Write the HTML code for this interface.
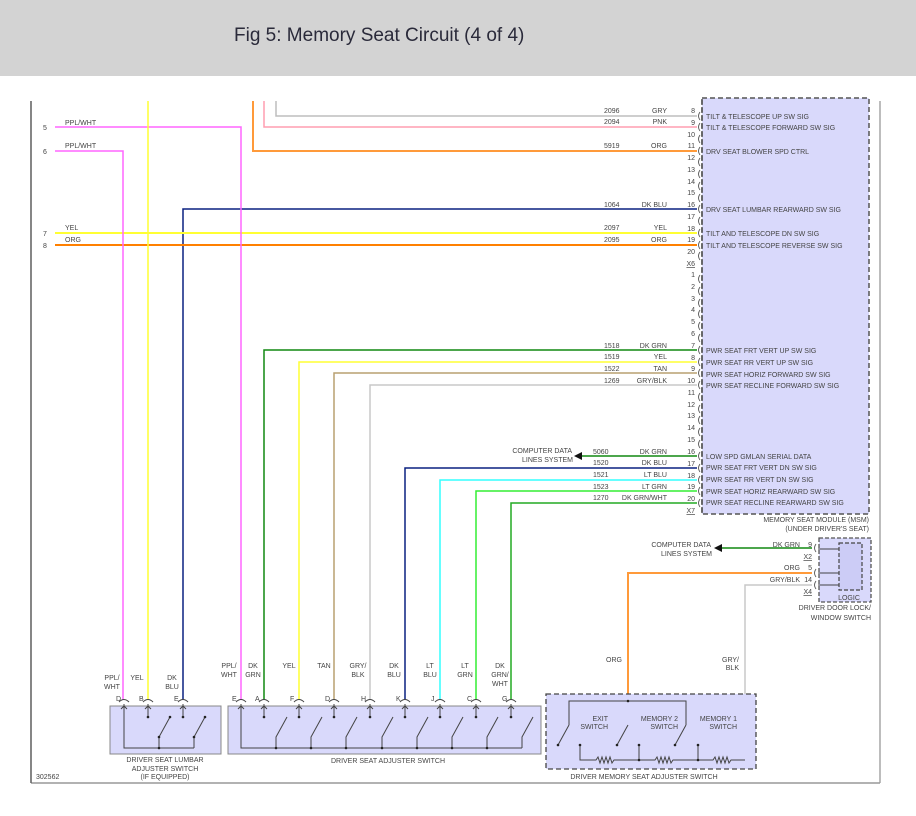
<!DOCTYPE html>
<html><head><meta charset="utf-8"><style>
body{margin:0;width:916px;height:816px;background:#fff;overflow:hidden}
.hdr{position:absolute;left:0;top:0;width:916px;height:76px;background:#d3d3d3}
.hdr span{position:absolute;left:234px;top:25px;font:19px "Liberation Sans",sans-serif;color:#2a2a3a}
svg{position:absolute;left:0;top:0}
text{font-family:"Liberation Sans",sans-serif;font-size:7px;fill:#444}
</style></head><body>
<div class="hdr"><span>Fig 5: Memory Seat Circuit (4 of 4)</span></div>
<svg width="916" height="816" viewBox="0 0 916 816">
<line x1="31" y1="101" x2="31" y2="783" stroke="#444" stroke-width="1.3"/>
<line x1="31" y1="783" x2="880" y2="783" stroke="#666" stroke-width="1"/>
<line x1="880" y1="101" x2="880" y2="783" stroke="#999" stroke-width="1.3"/>
<rect x="702" y="98" width="167" height="416" fill="#d9d9fb" stroke="#555" stroke-width="1.5" stroke-dasharray="5,3"/>
<g fill="none" stroke-width="1.5">
<polyline points="276,101 276,116 697,116" stroke="#bdbdbd"/>
<polyline points="264,101 264,127 697,127" stroke="#ff9eb0"/>
<polyline points="253,101 253,151 697,151" stroke="#ff9a3a" stroke-width="2"/>
<polyline points="183,700 183,209 697,209" stroke="#0a2080"/>
<line x1="55" y1="233" x2="697" y2="233" stroke="#ffff33" stroke-width="2"/>
<line x1="55" y1="245" x2="697" y2="245" stroke="#ff8000" stroke-width="2"/>
<polyline points="55,127 241,127 241,700" stroke="#ff66ff"/>
<polyline points="55,151 123,151 123,700" stroke="#ff66ff"/>
<line x1="148" y1="101" x2="148" y2="700" stroke="#ffff33"/>
<polyline points="264,700 264,350 697,350" stroke="#118811"/>
<polyline points="299,700 299,362 697,362" stroke="#ffff33"/>
<polyline points="334,700 334,373 697,373" stroke="#b8a070"/>
<polyline points="370,700 370,385 697,385" stroke="#c8c8c8"/>
<line x1="582" y1="456" x2="697" y2="456" stroke="#118811"/>
<polyline points="405,700 405,468 697,468" stroke="#0a2080"/>
<polyline points="440,700 440,480 697,480" stroke="#33ffff"/>
<polyline points="476,700 476,491 697,491" stroke="#33ee33"/>
<polyline points="511,700 511,503 697,503" stroke="#22aa22"/>
<line x1="722" y1="548" x2="812" y2="548" stroke="#118811"/>
<polyline points="628,694 628,573 812,573" stroke="#ff9a3a" stroke-width="2"/>
<polyline points="745,760 745,585 812,585" stroke="#c8c8c8"/>
</g>
<polygon points="574,456 582,452 582,460" fill="#111"/>
<polygon points="714,548 722,544 722,552" fill="#111"/>
<g fill="none" stroke="#555" stroke-width="0.9">
<path d="M700 112 q-3 4 0 8 M700 123 q-3 4 0 8 M700 135 q-3 4 0 8 M700 147 q-3 4 0 8 M700 158 q-3 4 0 8 M700 170 q-3 4 0 8 M700 182 q-3 4 0 8 M700 194 q-3 4 0 8 M700 205 q-3 4 0 8 M700 217 q-3 4 0 8 M700 229 q-3 4 0 8 M700 241 q-3 4 0 8 M700 252 q-3 4 0 8"/>
<path d="M700 275 q-3 4 0 8 M700 287 q-3 4 0 8 M700 299 q-3 4 0 8 M700 310 q-3 4 0 8 M700 322 q-3 4 0 8 M700 334 q-3 4 0 8 M700 346 q-3 4 0 8 M700 358 q-3 4 0 8 M700 369 q-3 4 0 8 M700 381 q-3 4 0 8 M700 393 q-3 4 0 8 M700 405 q-3 4 0 8 M700 416 q-3 4 0 8 M700 428 q-3 4 0 8 M700 440 q-3 4 0 8 M700 452 q-3 4 0 8 M700 464 q-3 4 0 8 M700 476 q-3 4 0 8 M700 487 q-3 4 0 8 M700 499 q-3 4 0 8"/>
<path d="M816 544 q-3 4 0 8 M816 569 q-3 4 0 8 M816 581 q-3 4 0 8"/>
</g>
<line x1="702" y1="100" x2="702" y2="514" stroke="#555" stroke-width="1.5" stroke-dasharray="5,3"/>
<g text-anchor="start">
<text x="604" y="113">2096</text><text x="604" y="124">2094</text><text x="604" y="148">5919</text><text x="604" y="207">1064</text><text x="604" y="230">2097</text><text x="604" y="242">2095</text>
<text x="604" y="348">1518</text><text x="604" y="359">1519</text><text x="604" y="371">1522</text><text x="604" y="383">1269</text><text x="593" y="454">5060</text><text x="593" y="465">1520</text><text x="593" y="477">1521</text><text x="593" y="489">1523</text><text x="593" y="500">1270</text>
</g>
<g text-anchor="end">
<text x="667" y="113">GRY</text><text x="667" y="124">PNK</text><text x="667" y="148">ORG</text><text x="667" y="207">DK BLU</text><text x="667" y="230">YEL</text><text x="667" y="242">ORG</text>
<text x="667" y="348">DK GRN</text><text x="667" y="359">YEL</text><text x="667" y="371">TAN</text><text x="667" y="383">GRY/BLK</text><text x="667" y="454">DK GRN</text><text x="667" y="465">DK BLU</text><text x="667" y="477">LT BLU</text><text x="667" y="489">LT GRN</text><text x="667" y="500">DK GRN/WHT</text>
<text x="695" y="113">8</text><text x="695" y="125">9</text><text x="695" y="137">10</text><text x="695" y="148">11</text><text x="695" y="160">12</text><text x="695" y="172">13</text><text x="695" y="184">14</text><text x="695" y="195">15</text><text x="695" y="207">16</text><text x="695" y="219">17</text><text x="695" y="231">18</text><text x="695" y="242">19</text><text x="695" y="254">20</text>
<text x="695" y="266" text-decoration="underline">X6</text>
<text x="695" y="277">1</text><text x="695" y="289">2</text><text x="695" y="301">3</text><text x="695" y="312">4</text><text x="695" y="324">5</text><text x="695" y="336">6</text><text x="695" y="348">7</text><text x="695" y="360">8</text><text x="695" y="371">9</text><text x="695" y="383">10</text><text x="695" y="395">11</text><text x="695" y="407">12</text><text x="695" y="418">13</text><text x="695" y="430">14</text><text x="695" y="442">15</text><text x="695" y="454">16</text><text x="695" y="466">17</text><text x="695" y="478">18</text><text x="695" y="489">19</text><text x="695" y="501">20</text>
<text x="695" y="513" text-decoration="underline">X7</text>
<text x="572" y="453">COMPUTER DATA</text><text x="573" y="462">LINES SYSTEM</text>
<text x="711" y="547">COMPUTER DATA</text><text x="712" y="556">LINES SYSTEM</text>
<text x="800" y="547">DK GRN</text><text x="812" y="547">9</text><text x="812" y="559" text-decoration="underline">X2</text>
<text x="800" y="570">ORG</text><text x="812" y="570">5</text>
<text x="800" y="582">GRY/BLK</text><text x="812" y="582">14</text><text x="812" y="594" text-decoration="underline">X4</text>
<text x="869" y="522">MEMORY SEAT MODULE (MSM)</text><text x="869" y="531">(UNDER DRIVER'S SEAT)</text>
<text x="871" y="610">DRIVER DOOR LOCK/</text><text x="871" y="620">WINDOW SWITCH</text>
<text x="622" y="662">ORG</text><text x="739" y="662">GRY/</text><text x="739" y="670">BLK</text>
</g>
<g>
<text x="706" y="119">TILT &amp; TELESCOPE UP SW SIG</text>
<text x="706" y="130">TILT &amp; TELESCOPE FORWARD SW SIG</text>
<text x="706" y="154">DRV SEAT BLOWER SPD CTRL</text>
<text x="706" y="212">DRV SEAT LUMBAR REARWARD SW SIG</text>
<text x="706" y="236">TILT AND TELESCOPE DN SW SIG</text>
<text x="706" y="248">TILT AND TELESCOPE REVERSE SW SIG</text>
<text x="706" y="353">PWR SEAT FRT VERT UP SW SIG</text>
<text x="706" y="365">PWR SEAT RR VERT UP SW SIG</text>
<text x="706" y="377">PWR SEAT HORIZ FORWARD SW SIG</text>
<text x="706" y="388">PWR SEAT RECLINE FORWARD SW SIG</text>
<text x="706" y="459">LOW SPD GMLAN SERIAL DATA</text>
<text x="706" y="470">PWR SEAT FRT VERT DN SW SIG</text>
<text x="706" y="482">PWR SEAT RR VERT DN SW SIG</text>
<text x="706" y="494">PWR SEAT HORIZ REARWARD SW SIG</text>
<text x="706" y="505">PWR SEAT RECLINE REARWARD SW SIG</text>
<text x="43" y="130" fill="#c33">5</text><text x="65" y="125">PPL/WHT</text>
<text x="43" y="154" fill="#c33">6</text><text x="65" y="148">PPL/WHT</text>
<text x="43" y="236" fill="#c33">7</text><text x="65" y="230">YEL</text>
<text x="43" y="248" fill="#c33">8</text><text x="65" y="242">ORG</text>
<text x="36" y="779">302562</text>
</g>
<rect x="819" y="538" width="52" height="64" fill="#d9d9fb" stroke="#555" stroke-width="1.3" stroke-dasharray="4,2"/>
<rect x="839" y="543" width="23" height="47" fill="#ccccf6" stroke="#444" stroke-width="1.2" stroke-dasharray="4,2"/>
<path d="M818 549 H839 M818 573 H839 M818 585 H839" stroke="#444" stroke-width="1"/>
<text x="849" y="600" text-anchor="middle">LOGIC</text>
<rect x="110" y="706" width="111" height="48" fill="#d9d9fb" stroke="#888" stroke-width="1"/>
<rect x="228" y="706" width="313" height="48" fill="#d9d9fb" stroke="#888" stroke-width="1"/>
<rect x="546" y="694" width="210" height="75" fill="#d9d9fb" stroke="#444" stroke-width="1.3" stroke-dasharray="5,3"/>
<g fill="none" stroke="#444" stroke-width="1">
<path d="M124 704 V748 H194 M159 748 V737 L170 717 M194 748 V737 L205 717 M148 704 V717 M183 704 V717"/>
<path d="M241 704 V748 H522 M276 748 V737 L287 717 M311 748 V737 L322 717 M346 748 V737 L357 717 M382 748 V737 L393 717 M417 748 V737 L428 717 M452 748 V737 L463 717 M487 748 V737 L498 717 M522 748 V737 L533 717"/>
<path d="M264 704 V717 M299 704 V717 M334 704 V717 M370 704 V717 M405 704 V717 M440 704 V717 M476 704 V717 M511 704 V717"/>
<path d="M119 702 q5 -5 10 0 M143 702 q5 -5 10 0 M178 702 q5 -5 10 0 M236 702 q5 -5 10 0 M259 702 q5 -5 10 0 M294 702 q5 -5 10 0 M329 702 q5 -5 10 0 M365 702 q5 -5 10 0 M400 702 q5 -5 10 0 M435 702 q5 -5 10 0 M471 702 q5 -5 10 0 M506 702 q5 -5 10 0"/>
<path d="M121 709 l3 -3 l3 3 M145 709 l3 -3 l3 3 M180 709 l3 -3 l3 3 M238 709 l3 -3 l3 3 M261 709 l3 -3 l3 3 M296 709 l3 -3 l3 3 M331 709 l3 -3 l3 3 M367 709 l3 -3 l3 3 M402 709 l3 -3 l3 3 M437 709 l3 -3 l3 3 M473 709 l3 -3 l3 3 M508 709 l3 -3 l3 3"/>
<path d="M569 725 V701 H686 V725 M569 725 L558 745 M628 725 L617 745 M686 725 L675 745 M580 745 V760 H596 l2 -3 l2 6 l2 -6 l2 6 l2 -6 l2 6 l2 -6 l2 6 l2 -3 H655 l2 -3 l2 6 l2 -6 l2 6 l2 -6 l2 6 l2 -6 l2 6 l2 -3 H713 l2 -3 l2 6 l2 -6 l2 6 l2 -6 l2 6 l2 -6 l2 6 l2 -3 H745 M639 745 V760 M698 745 V760"/>
</g>
<g fill="#222">
<circle cx="159" cy="748" r="1.3"/><circle cx="170" cy="717" r="1.3"/><circle cx="205" cy="717" r="1.3"/><circle cx="148" cy="717" r="1.3"/><circle cx="183" cy="717" r="1.3"/><circle cx="159" cy="737" r="1.3"/><circle cx="194" cy="737" r="1.3"/>
<circle cx="276" cy="748" r="1.3"/><circle cx="311" cy="748" r="1.3"/><circle cx="346" cy="748" r="1.3"/><circle cx="382" cy="748" r="1.3"/><circle cx="417" cy="748" r="1.3"/><circle cx="452" cy="748" r="1.3"/><circle cx="487" cy="748" r="1.3"/>
<circle cx="264" cy="717" r="1.3"/><circle cx="299" cy="717" r="1.3"/><circle cx="334" cy="717" r="1.3"/><circle cx="370" cy="717" r="1.3"/><circle cx="405" cy="717" r="1.3"/><circle cx="440" cy="717" r="1.3"/><circle cx="476" cy="717" r="1.3"/><circle cx="511" cy="717" r="1.3"/>
<circle cx="628" cy="701" r="1.3"/><circle cx="558" cy="745" r="1.3"/><circle cx="617" cy="745" r="1.3"/><circle cx="675" cy="745" r="1.3"/><circle cx="580" cy="745" r="1.3"/><circle cx="639" cy="745" r="1.3"/><circle cx="698" cy="745" r="1.3"/><circle cx="639" cy="760" r="1.3"/><circle cx="698" cy="760" r="1.3"/>
</g>
<g>
<text x="116" y="701">D</text><text x="139" y="701">B</text><text x="174" y="701">E</text>
<text x="232" y="701">E</text><text x="255" y="701">A</text><text x="290" y="701">F</text><text x="325" y="701">D</text><text x="361" y="701">H</text><text x="396" y="701">K</text><text x="431" y="701">J</text><text x="467" y="701">C</text><text x="502" y="701">G</text>
</g>
<g text-anchor="middle">
<text x="112" y="680">PPL/</text><text x="112" y="689">WHT</text><text x="137" y="680">YEL</text><text x="172" y="680">DK</text><text x="172" y="689">BLU</text>
<text x="229" y="668">PPL/</text><text x="229" y="677">WHT</text><text x="253" y="668">DK</text><text x="253" y="677">GRN</text><text x="289" y="668">YEL</text><text x="324" y="668">TAN</text><text x="358" y="668">GRY/</text><text x="358" y="677">BLK</text><text x="394" y="668">DK</text><text x="394" y="677">BLU</text><text x="430" y="668">LT</text><text x="430" y="677">BLU</text><text x="465" y="668">LT</text><text x="465" y="677">GRN</text><text x="500" y="668">DK</text><text x="500" y="677">GRN/</text><text x="500" y="686">WHT</text>
<text x="165" y="762">DRIVER SEAT LUMBAR</text><text x="165" y="771">ADJUSTER SWITCH</text><text x="165" y="779">(IF EQUIPPED)</text>
<text x="388" y="763">DRIVER SEAT ADJUSTER SWITCH</text>
<text x="644" y="779">DRIVER MEMORY SEAT ADJUSTER SWITCH</text>
</g>
<g text-anchor="end">
<text x="608" y="721">EXIT</text><text x="608" y="729">SWITCH</text>
<text x="678" y="721">MEMORY 2</text><text x="678" y="729">SWITCH</text>
<text x="737" y="721">MEMORY 1</text><text x="737" y="729">SWITCH</text>
</g>
</svg>
</body></html>
